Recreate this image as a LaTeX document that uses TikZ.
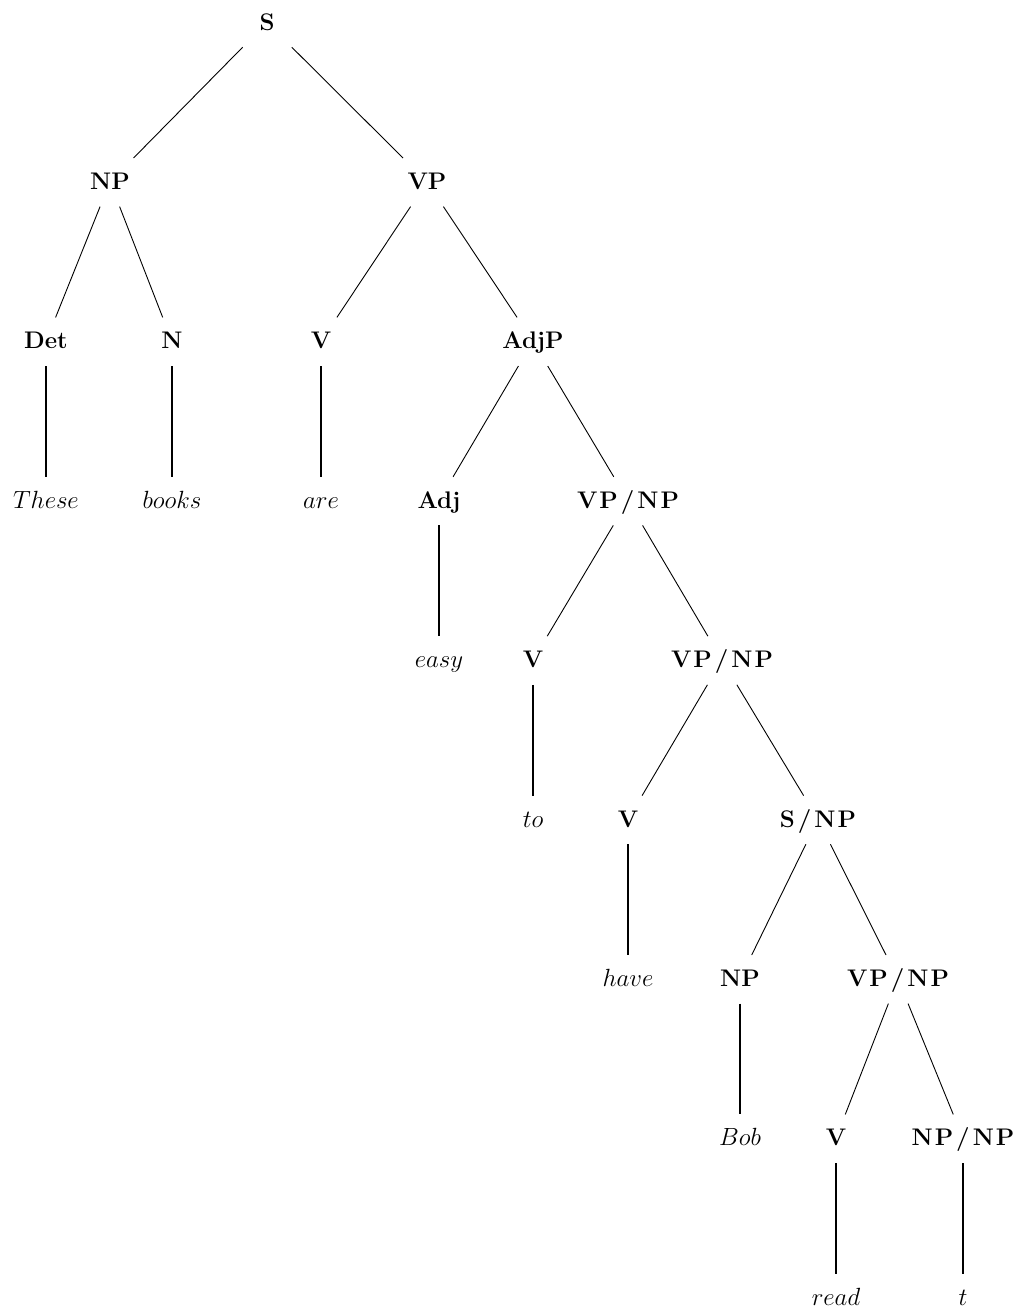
\documentclass[tikz,border=0pt]{standalone}
\usetikzlibrary{calc}
\newcommand\slashlab[1]{\textbf{#1}}
\begin{document}
\begin{tikzpicture}[x=1pt,y=-1pt,
  lab/.style={anchor=base,inner sep=0pt,font=\fontsize{24}{28}\selectfont},
  branch/.style={line width=0.9pt},
  unary/.style={line width=1.8pt}]
\useasboundingbox (0,0) rectangle (1020,1310);
% level baselines: 30 + 159.4 i
\node[lab] (s)    at (267,30)    {\textbf{S}};
\node[lab] (np)   at (110,189.4) {\textbf{NP}};
\node[lab] (vp)   at (427,189.4) {\textbf{VP}};
\node[lab] (det)  at (46,348.8)  {\textbf{Det}};
\node[lab] (n)    at (172,348.8) {\textbf{N}};
\node[lab] (v1)   at (321,348.8) {\textbf{V}};
\node[lab] (adjp) at (533,348.8) {\textbf{AdjP}};
\node[lab] (these) at (46,508.2) {$These$};
\node[lab] (books) at (172,508.2) {$books$};
\node[lab] (are)  at (321,508.2) {$are$};
\node[lab] (adj)  at (439,508.2) {\textbf{Adj}};
\node[lab] (vpa)  at (628,508.2) {\slashlab{V\kern2pt P\kern3pt/\kern3pt N\kern2pt P}};
\node[lab] (easy) at (439,667.6) {$easy$};
\node[lab] (v2)   at (533,667.6) {\textbf{V}};
\node[lab] (vpb)  at (722,667.6) {\slashlab{V\kern2pt P\kern3pt/\kern3pt N\kern2pt P}};
\node[lab] (to)   at (533,827)   {$to$};
\node[lab] (v3)   at (628,827)   {\textbf{V}};
\node[lab] (snp)  at (818,827)   {\slashlab{S\kern3pt/\kern3pt N\kern2pt P}};
\node[lab] (have) at (628,986.4) {$have$};
\node[lab] (np2)  at (740,986.4) {\textbf{NP}};
\node[lab] (vpc)  at (898,986.4) {\slashlab{V\kern2pt P\kern3pt/\kern3pt N\kern2pt P}};
\node[lab] (bob)  at (740,1145.8) {$Bob$};
\node[lab] (v4)   at (836,1145.8) {\textbf{V}};
\node[lab] (npnp) at (963,1145.8) {\slashlab{N\kern2pt P\kern3pt/\kern3pt N\kern2pt P}};
\node[lab] (read) at (836,1305.2) {$read$};
\node[lab] (t)    at (963,1305.2) {$t$};
\newcommand\br[3][branch]{\draw[#1] ($(#2.base)!0.155!(#3.base)+(0,-7.5)$) -- ($(#3.base)!0.15!(#2.base)+(0,-7.5)$);}
\br{s}{np}\br{s}{vp}
\br{np}{det}\br{np}{n}
\br{vp}{v1}\br{vp}{adjp}
\br[unary]{det}{these}\br[unary]{n}{books}\br[unary]{v1}{are}
\br{adjp}{adj}\br{adjp}{vpa}
\br[unary]{adj}{easy}
\br{vpa}{v2}\br{vpa}{vpb}
\br[unary]{v2}{to}
\br{vpb}{v3}\br{vpb}{snp}
\br[unary]{v3}{have}
\br{snp}{np2}\br{snp}{vpc}
\br[unary]{np2}{bob}
\br{vpc}{v4}\br{vpc}{npnp}
\br[unary]{v4}{read}\br[unary]{npnp}{t}
\end{tikzpicture}
\end{document}
